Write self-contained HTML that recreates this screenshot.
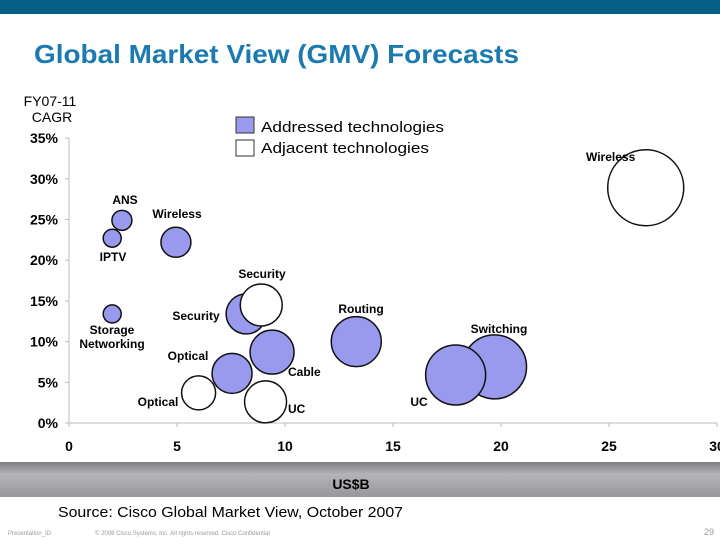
<!DOCTYPE html>
<html><head><meta charset="utf-8"><style>
body{margin:0;width:720px;height:540px;overflow:hidden;background:#fff;font-family:"Liberation Sans",sans-serif;}
svg text{font-family:"Liberation Sans",sans-serif;}
</style></head><body>
<svg id="c" width="720" height="540" xmlns="http://www.w3.org/2000/svg">
<defs><linearGradient id="band" x1="0" y1="0" x2="0" y2="1"><stop offset="0" stop-color="#7d7d82"/><stop offset="0.35" stop-color="#b4b4b8"/><stop offset="1" stop-color="#98989c"/></linearGradient></defs>
<rect x="0" y="0" width="720" height="14" fill="#045e85"/>
<text x="34" y="63" font-size="26" font-weight="bold" fill="#1b7bb0" textLength="485" lengthAdjust="spacingAndGlyphs">Global Market View (GMV) Forecasts</text>
<text x="50" y="106" font-size="14" text-anchor="middle">FY07-11</text>
<text x="52" y="122" font-size="14" text-anchor="middle">CAGR</text>
<rect x="236" y="117" width="18" height="16" fill="#9999ee" stroke="#333"/>
<text x="261" y="132" font-size="15" textLength="183" lengthAdjust="spacingAndGlyphs">Addressed technologies</text>
<rect x="236" y="140" width="18" height="16" fill="#fff" stroke="#333"/>
<text x="261" y="153" font-size="15" textLength="168" lengthAdjust="spacingAndGlyphs">Adjacent technologies</text>
<rect x="0" y="462" width="720" height="35" fill="url(#band)"/>
<text x="351" y="489" font-size="14" font-weight="bold" text-anchor="middle">US$B</text>
<text x="58" y="517" font-size="15" textLength="345" lengthAdjust="spacingAndGlyphs">Source: Cisco Global Market View, October 2007</text>
<text x="8" y="535" font-size="6" fill="#999">Presentation_ID</text>
<text x="95" y="535" font-size="6" fill="#999">© 2008 Cisco Systems, Inc. All rights reserved.     Cisco Confidential</text>
<text x="714" y="535" font-size="9" fill="#999" text-anchor="end">29</text>
<g id="axes"></g><g id="marks"></g><g id="labels"></g>
</svg>
<script>
const xTicks=[0,5,10,15,20,25,30];
const yTicks=[0,5,10,15,20,25,30,35];
const names=["Wireless","ANS","IPTV","Wireless","Storage Networking","Security","Security","Routing","Cable","Optical","Switching","UC","Optical","UC"];
const kinds=["adj","add","add","add","add","add","adj","add","add","add","add","add","adj","adj"];
const xVals=[26.7,2.45,2.0,4.95,2.0,8.2,8.9,13.3,9.4,7.55,19.7,17.9,6.0,9.1];
const yVals=[28.9,24.9,22.7,22.2,13.4,13.4,14.5,10.0,8.7,6.1,6.9,5.9,3.7,2.6];
const sizes=[38,10,9,15,9,20,21,25,22,20,32,30,17,21];
const NS="http://www.w3.org/2000/svg";
const X=v=>69+v*21.6, Y=v=>423-v*8.14;
function mk(t,a,p){const e=document.createElementNS(NS,t);for(const k in a)e.setAttribute(k,a[k]);p.appendChild(e);return e;}
const ax=document.getElementById('axes'),mg=document.getElementById('marks'),lg=document.getElementById('labels');
let l=mk('line',{x1:X(0),y1:Y(0),x2:X(30),y2:Y(0),stroke:'#bbb'},ax);


l=mk('line',{x1:X(0),y1:Y(0),x2:X(0),y2:Y(35),stroke:'#bbb'},ax);


xTicks.forEach(v=>{
 mk('line',{x1:X(v),y1:Y(0),x2:X(v),y2:Y(0)+4,stroke:'#bbb'},ax);
 const t=mk('text',{x:X(v),y:451,'font-size':14,'font-weight':'bold','text-anchor':'middle'},ax);
 t.textContent=v;
 
 
});
yTicks.forEach(v=>{
 mk('line',{x1:X(0)-4,y1:Y(v),x2:X(0),y2:Y(v),stroke:'#bbb'},ax);
 const t=mk('text',{x:58,y:Y(v)+5,'font-size':14,'font-weight':'bold','text-anchor':'end'},ax);
 t.textContent=v+'%';
 
 
});
const lab=[[586,161,'start'],[125,204,'middle'],[113,261,'middle'],[177,218,'middle'],[112,334,'middle'],[196,320,'middle'],[262,278,'middle'],[361,313,'middle'],[288,376,'start'],[188,360,'middle'],[499,333,'middle'],[419,406,'middle'],[158,406,'middle'],[288,413,'start']];
names.forEach((n,i)=>{
 const c=mk('circle',{cx:X(xVals[i]),cy:Y(yVals[i]),r:sizes[i],fill:kinds[i]=='add'?'#9999ee':'#fff',stroke:'#111','stroke-width':1.5},mg);
 
 
 const [lx,ly,an]=lab[i];
 const t=mk('text',{x:lx,y:ly,'font-size':12,'font-weight':'bold','text-anchor':an},lg);
 if(n=="Storage Networking"){t.innerHTML='<tspan x="'+lx+'" dy="0">Storage</tspan><tspan x="'+lx+'" dy="14">Networking</tspan>';}
 else t.textContent=n;
 
 
});
</script>
</body></html>
